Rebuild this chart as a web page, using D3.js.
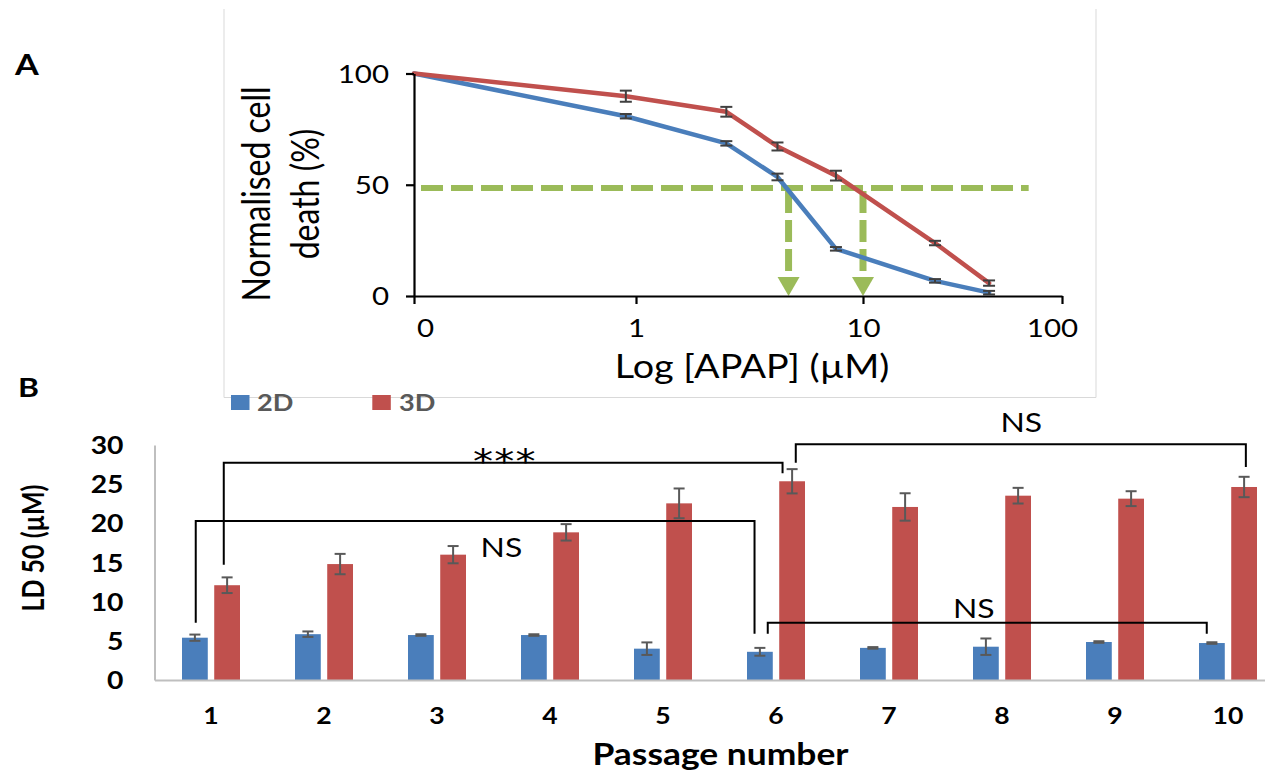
<!DOCTYPE html>
<html><head><meta charset="utf-8">
<script src="https://cdn.jsdelivr.net/npm/d3@7"></script>
<style>body{margin:0;background:#fff}svg{display:block}</style>
</head><body><svg id="c" width="1265" height="774"></svg>
<script>
// ---------- Panel A data ----------
const concTicks = [0, 1, 10, 100];
const concLabels = ["0", "1", "10", "100"];
const conc = [0, 0.9, 2.5, 4.2, 7.6, 23, 43];
const death2D = [100, 80.8, 68.6, 53.5, 21.2, 6.8, 1.5];
const err2D = [0, 1.0, 1.0, 1.5, 0.8, 0.8, 0.8];
const death3D = [100, 89.8, 82.8, 67.2, 54.1, 23.8, 5.8];
const err3D = [0, 2.5, 2.2, 1.8, 2.2, 1.0, 1.2];
const yTicksA = [0, 50, 100];
const ld50Level = 48.5;
const ld50Values = [4.7, 10];
const refLineEnd = 68;

// ---------- Panel B data ----------
const passages = [1, 2, 3, 4, 5, 6, 7, 8, 9, 10];
const seriesNames = ["2D", "3D"];
const ld2D = [5.4, 5.85, 5.74, 5.74, 4.0, 3.6, 4.1, 4.25, 4.85, 4.72];
const ld2Derr = [0.4, 0.35, 0.1, 0.1, 0.8, 0.5, 0.1, 1.05, 0.1, 0.1];
const ld3D = [12.1, 14.8, 16.0, 18.85, 22.55, 25.37, 22.09, 23.53, 23.15, 24.64];
const ld3Derr = [1.0, 1.3, 1.1, 1.05, 1.9, 1.55, 1.75, 1.0, 0.95, 1.3];
const yTicksB = [0, 5, 10, 15, 20, 25, 30];
// brackets: x in passage units, y in LD50 units
const brackets = [
  {x1: 0.865, x2: 5.81, top: 20.3, b1: 7.3, b2: 5.9, text: "NS", tx: 3.57, ty: 15.7},
  {x1: 1.113, x2: 6.058, top: 27.75, b1: 14.7, b2: 26.4, text: "***", tx: 3.6, ty: 26.4},
  {x1: 6.175, x2: 10.158, top: 30.1, b1: 27.75, b2: 27.2, text: "NS", tx: 8.17, ty: 31.6},
  {x1: 5.927, x2: 9.812, top: 7.3, b1: 5.9, b2: 5.9, text: "NS", tx: 7.75, ty: 7.88}
];

const BLUE = "#4a7ebb", RED = "#c0504d", GREEN = "#9bbb59";
const SX = 1.18;
const FONT = "Lato, 'Open Sans', sans-serif";
const svg = d3.select("#c");

function label(g, x, y, str, o = {}) {
  return g.append("text")
    .attr("transform", `translate(${x},${y}) scale(${SX},1)` + (o.rot ? " rotate(-90)" : ""))
    .attr("text-anchor", o.anchor || "start")
    .attr("font-family", o.family || FONT)
    .attr("font-size", o.size || 20)
    .attr("font-weight", o.bold ? 700 : 400)
    .attr("fill", o.fill || "#000")
    .attr("letter-spacing", o.ls || null)
    .text(str);
}

// ================= Panel A =================
const gA = svg.append("g");
gA.append("path").attr("d", "M224,9V397.5H1096V9").attr("fill", "none")
  .attr("stroke", "#d9d9d9").attr("stroke-width", 1);

const decade = c => c === 0 ? -1 : Math.log10(c);
const xA = d3.scaleLinear().domain([-1, 0, 1, 2]).range([414, 636, 863, 1062]);
const yA = d3.scaleLinear().domain([0, 100]).range([296, 73.5]);

// green LD50 guides
gA.append("line")
  .attr("x1", xA(decade(0)) + 7).attr("x2", xA(decade(refLineEnd)))
  .attr("y1", yA(ld50Level)).attr("y2", yA(ld50Level))
  .attr("stroke", GREEN).attr("stroke-width", 6).attr("stroke-dasharray", "22,8");
ld50Values.forEach(v => {
  const x = xA(decade(v)), yb = yA(0);
  gA.append("line").attr("x1", x).attr("x2", x)
    .attr("y1", yA(ld50Level) + 3).attr("y2", yb - 19)
    .attr("stroke", GREEN).attr("stroke-width", 7).attr("stroke-dasharray", "22,7");
  gA.append("path").attr("d", `M${x - 11},${yb - 19}L${x + 11},${yb - 19}L${x},${yb}Z`).attr("fill", GREEN);
});

const seriesA = [
  {vals: death2D, err: err2D, color: BLUE},
  {vals: death3D, err: err3D, color: RED}
];
const lineA = d3.line().x(d => xA(decade(d[0]))).y(d => yA(d[1]));
seriesA.forEach(s => {
  gA.append("path").datum(conc.map((c, i) => [c, s.vals[i]]))
    .attr("d", lineA).attr("fill", "none").attr("stroke", s.color)
    .attr("stroke-width", 4.5).attr("stroke-linejoin", "round").attr("stroke-linecap", "round");
});
seriesA.forEach(s => {
  conc.forEach((c, i) => {
    if (!s.err[i]) return;
    const x = xA(decade(c)), lo = yA(s.vals[i] - s.err[i]), hi = yA(s.vals[i] + s.err[i]);
    const g = gA.append("g").attr("stroke", "#404040").attr("stroke-width", 2);
    g.append("line").attr("x1", x).attr("x2", x).attr("y1", lo).attr("y2", hi);
    g.append("line").attr("x1", x - 6).attr("x2", x + 6).attr("y1", lo).attr("y2", lo);
    g.append("line").attr("x1", x - 6).attr("x2", x + 6).attr("y1", hi).attr("y2", hi);
  });
});

// axes A
const axAY = gA.append("g").attr("transform", `translate(${xA(-1)},0)`)
  .call(d3.axisLeft(yA).tickValues(yTicksA).tickSize(8).tickSizeOuter(0).tickFormat(d3.format("d")));
const axAX = gA.append("g").attr("transform", `translate(0,${yA(0)})`)
  .call(d3.axisBottom(xA).tickValues(concTicks.map(decade)).tickSize(8).tickSizeOuter(0)
    .tickFormat((d, i) => concLabels[i]));
[axAY, axAX].forEach(a => {
  a.attr("color", "#000");
  a.select(".domain").attr("stroke-width", 2.2);
  a.selectAll(".tick line").attr("stroke-width", 2.2);
  a.selectAll("text").attr("font-family", FONT).attr("font-size", 25).attr("fill", "#000");
});
axAY.selectAll("text").attr("x", -25 / SX).attr("dy", "0.35em").attr("transform", `scale(${SX},1)`);
const shiftA = [11, 0, 0, -10];
axAX.selectAll("text").attr("y", 41).attr("dy", 0)
  .attr("x", (d, i) => shiftA[i] / SX).attr("transform", `scale(${SX},1)`);

label(gA, 270, 194, "Normalised cell", {rot: true, anchor: "middle", size: 32});
label(gA, 319, 194, "death (%)", {rot: true, anchor: "middle", size: 32});
label(gA, 752, 378, "Log [APAP] (\u00b5M)", {anchor: "middle", size: 32});
label(svg, 15, 75, "A", {bold: true, size: 29});

// ================= Panel B =================
const gB = svg.append("g");
const xB = d3.scaleBand().domain(passages).range([154.5, 1284.5]);
const xS = d3.scaleBand().domain(seriesNames).range([-29, 29]).paddingInner(0.2);
const yB = d3.scaleLinear().domain([0, 30]).range([680, 445]);
const xC = d3.scaleLinear().domain([0.5, 10.5]).range([154.5, 1284.5]);
const cx = p => xB(p) + xB.bandwidth() / 2;

const seriesB = [
  {name: "2D", vals: ld2D, err: ld2Derr, color: BLUE},
  {name: "3D", vals: ld3D, err: ld3Derr, color: RED}
];
seriesB.forEach(s => {
  gB.selectAll(null).data(passages).enter().append("rect")
    .attr("x", p => cx(p) + xS(s.name)).attr("width", xS.bandwidth())
    .attr("y", (p, i) => yB(s.vals[i])).attr("height", (p, i) => yB(0) - yB(s.vals[i]))
    .attr("fill", s.color);
});
seriesB.forEach(s => {
  passages.forEach((p, i) => {
    const x = cx(p) + xS(s.name) + xS.bandwidth() / 2;
    const lo = yB(s.vals[i] - s.err[i]), hi = yB(s.vals[i] + s.err[i]);
    const g = gB.append("g").attr("stroke", "#595959").attr("stroke-width", 2);
    g.append("line").attr("x1", x).attr("x2", x).attr("y1", lo).attr("y2", hi);
    g.append("line").attr("x1", x - 5.5).attr("x2", x + 5.5).attr("y1", lo).attr("y2", lo);
    g.append("line").attr("x1", x - 5.5).attr("x2", x + 5.5).attr("y1", hi).attr("y2", hi);
  });
});

const axBY = gB.append("g").attr("transform", `translate(${xB.range()[0]},0)`)
  .call(d3.axisLeft(yB).tickValues(yTicksB).tickSize(0).tickSizeOuter(0));
const axBX = gB.append("g").attr("transform", `translate(0,${yB(0)})`)
  .call(d3.axisBottom(xB).tickSize(0).tickSizeOuter(0));
[axBY, axBX].forEach(a => {
  a.select(".domain").attr("stroke", "#bfbfbf").attr("stroke-width", 2);
  a.selectAll("text").attr("font-family", FONT).attr("font-weight", 700).attr("fill", "#000");
});
axBY.selectAll("text").attr("font-size", 24).attr("x", -31 / SX).attr("dy", "0.36em")
  .attr("transform", `scale(${SX},1)`);
axBX.selectAll("text").attr("font-size", 22.5).attr("y", 44).attr("dy", 0)
  .attr("transform", `scale(${SX},1)`);

// brackets
brackets.forEach(b => {
  gB.append("path")
    .attr("d", `M${xC(b.x1)},${yB(b.b1)}V${yB(b.top)}H${xC(b.x2)}V${yB(b.b2)}`)
    .attr("fill", "none").attr("stroke", "#000").attr("stroke-width", 2);
  if (b.text === "***") label(gB, xC(b.tx), yB(b.ty), b.text,
    {anchor: "middle", size: 34, ls: 1, family: "'DejaVu Sans', sans-serif"});
  else label(gB, xC(b.tx), yB(b.ty), b.text, {anchor: "middle", size: 27});
});

// legend
const legendPos = [{x: 231, tx: 257}, {x: 372.3, tx: 399}];
seriesB.forEach((s, i) => {
  gB.append("rect").attr("x", legendPos[i].x).attr("y", 395).attr("width", 18.5).attr("height", 15).attr("fill", s.color);
  label(gB, legendPos[i].tx, 411, s.name, {bold: true, size: 23, fill: "#595959"});
});

label(gB, 44, 548, "LD 50 (\u00b5M)", {rot: true, anchor: "middle", bold: true, size: 25});
label(gB, 720.5, 765, "Passage number", {anchor: "middle", bold: true, size: 30});
label(svg, 18, 397, "B", {bold: true, size: 27});
</script>
</body></html>
